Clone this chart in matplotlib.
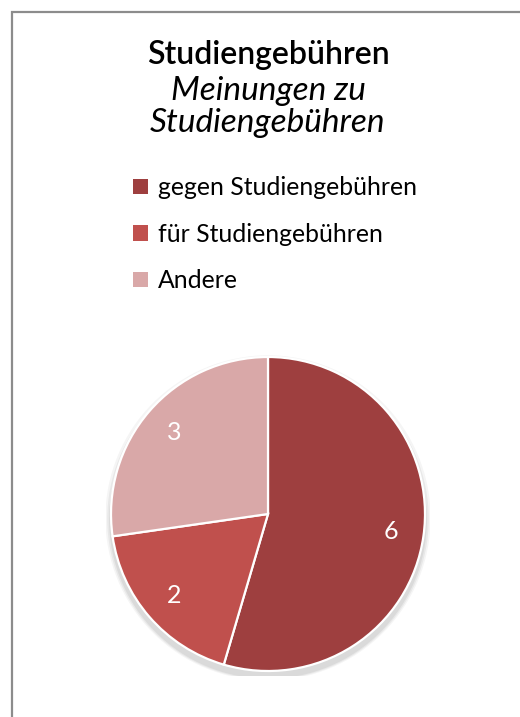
import matplotlib
matplotlib.use("Agg")
import matplotlib.pyplot as plt
from matplotlib.patches import Rectangle, Circle

categories = ["gegen Studiengebühren", "für Studiengebühren", "Andere"]
values = [6, 2, 3]
colors = ["#9E3F3F", "#C0504D", "#D9A8A8"]
title_main = "Studiengebühren"
title_sub = "Meinungen zu\nStudiengebühren"

W, H = 520, 717
fig = plt.figure(figsize=(W / 100, H / 100), dpi=100)
fig.patch.set_facecolor("white")

# outer chart frame (extends beyond the visible area on right/bottom)
fig.add_artist(Rectangle((12 / W, -0.05), 1.2, (H - 12) / H + 0.05,
                         transform=fig.transFigure, fill=False,
                         edgecolor="#8C8C8C", linewidth=1.6))

font = ["Lato", "DejaVu Sans"]
fig.text(268 / W, 1 - 55 / H, title_main, ha="center", va="center",
         fontsize=23, family=font, fontweight="semibold")
fig.text(268 / W, 1 - 107 / H, title_sub, ha="center", va="center",
         fontsize=24, family=font, style="italic", linespacing=1.08)

# pie axes
cx, cy, r = 268, 514, 157
pad = 1.03
ax = fig.add_axes([(cx - r * pad) / W, 1 - (cy + r * pad) / H,
                   2 * r * pad / W, 2 * r * pad / H])
ax.set_aspect("equal")
ax.axis("off")

# soft shadow
for i, a in enumerate([0.04, 0.05, 0.06]):
    ax.add_patch(Circle((0.0, -0.025 - 0.006 * i), 1.0 + 0.012 * (3 - i),
                        facecolor="black", alpha=a, edgecolor="none", zorder=0))

wedges, texts = ax.pie(values, colors=colors, startangle=90, counterclock=False,
                       radius=1.0, labels=[str(v) for v in values],
                       labeldistance=0.79,
                       wedgeprops=dict(edgecolor="white", linewidth=1.6),
                       textprops=dict(color="white", fontsize=18, family=font))
for w in wedges:
    w.set_zorder(2)
for t in texts:
    t.set_zorder(3)
    t.set_ha("center")
    t.set_va("center")
ax.set_xlim(-pad, pad)
ax.set_ylim(-pad, pad)

leg = fig.legend(wedges, categories, loc="upper left",
                 bbox_to_anchor=(121 / W, 1 - 164 / H),
                 frameon=False, prop=dict(family=font, size=17.8),
                 handlelength=0.6, handleheight=0.6, handletextpad=0.4,
                 labelspacing=0.95, borderpad=0)
for h in leg.legend_handles:
    h.set_edgecolor("none")

fig.savefig("out.png", dpi=100, facecolor="white")
